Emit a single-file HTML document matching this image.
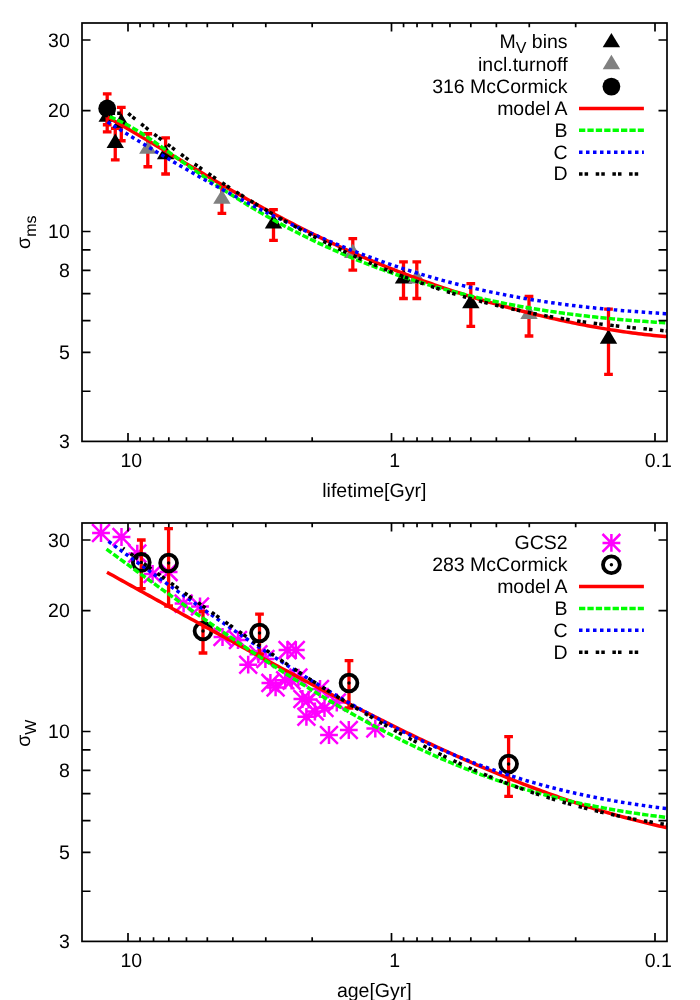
<!DOCTYPE html>
<html><head><meta charset="utf-8"><title>plot</title>
<style>html,body{margin:0;padding:0;background:#fff}svg{display:block}text{font-family:"Liberation Sans",sans-serif;text-rendering:geometricPrecision}</style></head><body>
<svg width="700" height="1000" viewBox="0 0 700 1000">
<rect width="700" height="1000" fill="#fff"/>
<rect x="0" y="0" width="1" height="1" fill="#fff" style="mix-blend-mode:multiply"/>
<g id="p1">
<path stroke="#ff0000" stroke-width="3.3" fill="none" d="M107.2,103.9 V131.9 M102.85,103.9 h8.7 M102.85,131.9 h8.7 M115.25,128.4 V159.9 M110.9,128.4 h8.7 M110.9,159.9 h8.7 M121.3,107.3 V140.75 M116.95,107.3 h8.7 M116.95,140.75 h8.7 M165.6,137.9 V174 M161.25,137.9 h8.7 M161.25,174 h8.7 M273.5,209.7 V240.4 M269.15,209.7 h8.7 M269.15,240.4 h8.7 M403.5,261.8 V298.5 M399.15,261.8 h8.7 M399.15,298.5 h8.7 M470.8,283.7 V326.4 M466.45,283.7 h8.7 M466.45,326.4 h8.7 M608.5,309.2 V374.4 M604.15,309.2 h8.7 M604.15,374.4 h8.7"/>
<path d="M107.2,107.41 l8.7,14.38 h-17.4 z" fill="#000"/>
<path d="M115.25,133.56 l8.7,14.38 h-17.4 z" fill="#000"/>
<path d="M121.3,113.26 l8.7,14.38 h-17.4 z" fill="#000"/>
<path d="M165.6,144.86 l8.7,14.38 h-17.4 z" fill="#000"/>
<path d="M273.5,214.06 l8.7,14.38 h-17.4 z" fill="#000"/>
<path d="M403.5,269.16 l8.7,14.38 h-17.4 z" fill="#000"/>
<path d="M470.8,293.96 l8.7,14.38 h-17.4 z" fill="#000"/>
<path d="M608.5,329.26 l8.7,14.38 h-17.4 z" fill="#000"/>
<path stroke="#ff0000" stroke-width="3.3" fill="none" d="M147.8,133.75 V166.75 M143.45,133.75 h8.7 M143.45,166.75 h8.7 M221.9,186.4 V213.4 M217.55,186.4 h8.7 M217.55,213.4 h8.7 M352.8,238.7 V270.2 M348.45,238.7 h8.7 M348.45,270.2 h8.7 M416.8,261.8 V298.5 M412.45,261.8 h8.7 M412.45,298.5 h8.7 M529,296.4 V336 M524.65,296.4 h8.7 M524.65,336 h8.7"/>
<path d="M147.8,139.46 l8.7,14.38 h-17.4 z" fill="#808080"/>
<path d="M221.9,189.46 l8.7,14.38 h-17.4 z" fill="#808080"/>
<path d="M352.8,243.66 l8.7,14.38 h-17.4 z" fill="#808080"/>
<path d="M416.8,269.16 l8.7,14.38 h-17.4 z" fill="#808080"/>
<path d="M529,304.66 l8.7,14.38 h-17.4 z" fill="#808080"/>
<path stroke="#ff0000" stroke-width="3.3" fill="none" d="M107.2,93.8 V124.75 M102.85,93.8 h8.7 M102.85,124.75 h8.7"/>
<circle cx="107.2" cy="108.5" r="8.9" fill="#000"/>
<path stroke="#ff0000" stroke-width="3.5" fill="none" d="M107.5,117.11 L110.5,118.8 L113.5,120.49 L116.5,122.21 L119.5,123.93 L122.5,125.66 L125.5,127.39 L128.5,129.14 L131.5,130.9 L134.5,132.66 L137.5,134.43 L140.5,136.2 L143.5,137.98 L146.5,139.76 L149.5,141.55 L152.5,143.34 L155.5,145.14 L158.5,146.94 L161.5,148.74 L164.5,150.54 L167.5,152.34 L170.5,154.14 L173.5,155.94 L176.5,157.75 L179.5,159.55 L182.5,161.35 L185.5,163.15 L188.5,164.94 L191.5,166.74 L194.5,168.53 L197.5,170.32 L200.5,172.1 L203.5,173.88 L206.5,175.66 L209.5,177.43 L212.5,179.2 L215.5,180.96 L218.5,182.72 L221.5,184.47 L224.5,186.22 L227.5,187.95 L230.5,189.69 L233.5,191.41 L236.5,193.13 L239.5,194.84 L242.5,196.54 L245.5,198.24 L248.5,199.93 L251.5,201.61 L254.5,203.28 L257.5,204.94 L260.5,206.59 L263.5,208.24 L266.5,209.87 L269.5,211.5 L272.5,213.12 L275.5,214.73 L278.5,216.32 L281.5,217.91 L284.5,219.49 L287.5,221.06 L290.5,222.62 L293.5,224.17 L296.5,225.71 L299.5,227.23 L302.5,228.75 L305.5,230.26 L308.5,231.75 L311.5,233.24 L314.5,234.71 L317.5,236.18 L320.5,237.63 L323.5,239.07 L326.5,240.5 L329.5,241.93 L332.5,243.33 L335.5,244.73 L338.5,246.12 L341.5,247.5 L344.5,248.86 L347.5,250.22 L350.5,251.56 L353.5,252.89 L356.5,254.21 L359.5,255.53 L362.5,256.82 L365.5,258.11 L368.5,259.39 L371.5,260.66 L374.5,261.91 L377.5,263.16 L380.5,264.39 L383.5,265.61 L386.5,266.83 L389.5,268.03 L392.5,269.22 L395.5,270.4 L398.5,271.57 L401.5,272.73 L404.5,273.87 L407.5,275.01 L410.5,276.14 L413.5,277.26 L416.5,278.36 L419.5,279.46 L422.5,280.54 L425.5,281.62 L428.5,282.68 L431.5,283.74 L434.5,284.79 L437.5,285.82 L440.5,286.85 L443.5,287.86 L446.5,288.87 L449.5,289.86 L452.5,290.85 L455.5,291.83 L458.5,292.79 L461.5,293.75 L464.5,294.7 L467.5,295.64 L470.5,296.57 L473.5,297.49 L476.5,298.4 L479.5,299.3 L482.5,300.19 L485.5,301.07 L488.5,301.95 L491.5,302.81 L494.5,303.66 L497.5,304.51 L500.5,305.35 L503.5,306.18 L506.5,307 L509.5,307.81 L512.5,308.61 L515.5,309.4 L518.5,310.18 L521.5,310.96 L524.5,311.72 L527.5,312.48 L530.5,313.23 L533.5,313.96 L536.5,314.69 L539.5,315.41 L542.5,316.13 L545.5,316.83 L548.5,317.52 L551.5,318.21 L554.5,318.88 L557.5,319.55 L560.5,320.2 L563.5,320.85 L566.5,321.49 L569.5,322.12 L572.5,322.74 L575.5,323.35 L578.5,323.95 L581.5,324.54 L584.5,325.12 L587.5,325.69 L590.5,326.25 L593.5,326.8 L596.5,327.34 L599.5,327.86 L602.5,328.38 L605.5,328.89 L608.5,329.39 L611.5,329.87 L614.5,330.35 L617.5,330.81 L620.5,331.26 L623.5,331.7 L626.5,332.13 L629.5,332.54 L632.5,332.94 L635.5,333.33 L638.5,333.71 L641.5,334.07 L644.5,334.42 L647.5,334.76 L650.5,335.08 L653.5,335.39 L656.5,335.69 L659.5,335.97 L662.5,336.23 L665.5,336.48 L667,336.6"/>
<path stroke="#00ff00" stroke-width="3.5" fill="none" stroke-dasharray="6.3 2.1" d="M109.6,116.79 L112.6,117.94 L115.6,119.19 L118.6,120.53 L121.6,121.96 L124.6,123.48 L127.6,125.07 L130.6,126.73 L133.6,128.46 L136.6,130.26 L139.6,132.11 L142.6,134.01 L145.6,135.97 L148.6,137.96 L151.6,139.99 L154.6,142.05 L157.6,144.14 L160.6,146.25 L163.6,148.38 L166.6,150.52 L169.6,152.66 L172.6,154.81 L175.6,156.95 L178.6,159.08 L181.6,161.21 L184.6,163.32 L187.6,165.43 L190.6,167.52 L193.6,169.61 L196.6,171.68 L199.6,173.75 L202.6,175.8 L205.6,177.84 L208.6,179.87 L211.6,181.88 L214.6,183.88 L217.6,185.87 L220.6,187.84 L223.6,189.8 L226.6,191.75 L229.6,193.68 L232.6,195.59 L235.6,197.49 L238.6,199.37 L241.6,201.23 L244.6,203.08 L247.6,204.91 L250.6,206.72 L253.6,208.52 L256.6,210.29 L259.6,212.05 L262.6,213.79 L265.6,215.51 L268.6,217.21 L271.6,218.9 L274.6,220.57 L277.6,222.22 L280.6,223.85 L283.6,225.47 L286.6,227.07 L289.6,228.65 L292.6,230.21 L295.6,231.76 L298.6,233.29 L301.6,234.81 L304.6,236.3 L307.6,237.78 L310.6,239.25 L313.6,240.7 L316.6,242.13 L319.6,243.55 L322.6,244.94 L325.6,246.33 L328.6,247.7 L331.6,249.05 L334.6,250.38 L337.6,251.71 L340.6,253.01 L343.6,254.3 L346.6,255.57 L349.6,256.83 L352.6,258.08 L355.6,259.31 L358.6,260.52 L361.6,261.72 L364.6,262.9 L367.6,264.07 L370.6,265.23 L373.6,266.37 L376.6,267.5 L379.6,268.61 L382.6,269.7 L385.6,270.79 L388.6,271.86 L391.6,272.91 L394.6,273.95 L397.6,274.98 L400.6,276 L403.6,277 L406.6,277.98 L409.6,278.96 L412.6,279.92 L415.6,280.87 L418.6,281.8 L421.6,282.72 L424.6,283.63 L427.6,284.53 L430.6,285.41 L433.6,286.28 L436.6,287.14 L439.6,287.98 L442.6,288.81 L445.6,289.63 L448.6,290.44 L451.6,291.24 L454.6,292.02 L457.6,292.8 L460.6,293.56 L463.6,294.31 L466.6,295.04 L469.6,295.77 L472.6,296.48 L475.6,297.19 L478.6,297.88 L481.6,298.56 L484.6,299.23 L487.6,299.89 L490.6,300.53 L493.6,301.17 L496.6,301.8 L499.6,302.41 L502.6,303.02 L505.6,303.61 L508.6,304.2 L511.6,304.77 L514.6,305.34 L517.6,305.89 L520.6,306.44 L523.6,306.97 L526.6,307.5 L529.6,308.01 L532.6,308.52 L535.6,309.01 L538.6,309.5 L541.6,309.98 L544.6,310.45 L547.6,310.91 L550.6,311.36 L553.6,311.8 L556.6,312.23 L559.6,312.65 L562.6,313.07 L565.6,313.48 L568.6,313.88 L571.6,314.27 L574.6,314.65 L577.6,315.02 L580.6,315.39 L583.6,315.74 L586.6,316.09 L589.6,316.44 L592.6,316.77 L595.6,317.1 L598.6,317.42 L601.6,317.73 L604.6,318.03 L607.6,318.33 L610.6,318.62 L613.6,318.9 L616.6,319.18 L619.6,319.45 L622.6,319.71 L625.6,319.97 L628.6,320.22 L631.6,320.46 L634.6,320.7 L637.6,320.93 L640.6,321.15 L643.6,321.37 L646.6,321.58 L649.6,321.79 L652.6,321.99 L655.6,322.18 L658.6,322.37 L661.6,322.56 L664.6,322.73 L667,322.87"/>
<path stroke="#0000ff" stroke-width="3.5" fill="none" stroke-dasharray="3.5 3.5" d="M107.5,121.88 L110.5,123.75 L113.5,125.61 L116.5,127.48 L119.5,129.33 L122.5,131.19 L125.5,133.03 L128.5,134.88 L131.5,136.72 L134.5,138.55 L137.5,140.38 L140.5,142.2 L143.5,144.02 L146.5,145.83 L149.5,147.64 L152.5,149.44 L155.5,151.24 L158.5,153.03 L161.5,154.81 L164.5,156.59 L167.5,158.36 L170.5,160.12 L173.5,161.88 L176.5,163.63 L179.5,165.37 L182.5,167.1 L185.5,168.83 L188.5,170.55 L191.5,172.27 L194.5,173.97 L197.5,175.67 L200.5,177.36 L203.5,179.05 L206.5,180.72 L209.5,182.39 L212.5,184.04 L215.5,185.69 L218.5,187.34 L221.5,188.97 L224.5,190.59 L227.5,192.21 L230.5,193.81 L233.5,195.41 L236.5,197 L239.5,198.58 L242.5,200.15 L245.5,201.71 L248.5,203.26 L251.5,204.8 L254.5,206.33 L257.5,207.85 L260.5,209.36 L263.5,210.86 L266.5,212.36 L269.5,213.84 L272.5,215.31 L275.5,216.77 L278.5,218.22 L281.5,219.66 L284.5,221.09 L287.5,222.51 L290.5,223.92 L293.5,225.32 L296.5,226.7 L299.5,228.08 L302.5,229.45 L305.5,230.8 L308.5,232.14 L311.5,233.48 L314.5,234.8 L317.5,236.11 L320.5,237.41 L323.5,238.7 L326.5,239.97 L329.5,241.24 L332.5,242.49 L335.5,243.73 L338.5,244.96 L341.5,246.18 L344.5,247.39 L347.5,248.59 L350.5,249.77 L353.5,250.95 L356.5,252.11 L359.5,253.26 L362.5,254.39 L365.5,255.52 L368.5,256.63 L371.5,257.74 L374.5,258.83 L377.5,259.9 L380.5,260.97 L383.5,262.03 L386.5,263.07 L389.5,264.1 L392.5,265.12 L395.5,266.13 L398.5,267.12 L401.5,268.1 L404.5,269.08 L407.5,270.04 L410.5,270.98 L413.5,271.92 L416.5,272.84 L419.5,273.75 L422.5,274.65 L425.5,275.54 L428.5,276.42 L431.5,277.28 L434.5,278.14 L437.5,278.98 L440.5,279.81 L443.5,280.63 L446.5,281.43 L449.5,282.23 L452.5,283.01 L455.5,283.78 L458.5,284.54 L461.5,285.29 L464.5,286.02 L467.5,286.75 L470.5,287.46 L473.5,288.16 L476.5,288.86 L479.5,289.54 L482.5,290.21 L485.5,290.86 L488.5,291.51 L491.5,292.15 L494.5,292.77 L497.5,293.38 L500.5,293.99 L503.5,294.58 L506.5,295.16 L509.5,295.73 L512.5,296.3 L515.5,296.85 L518.5,297.39 L521.5,297.92 L524.5,298.44 L527.5,298.95 L530.5,299.45 L533.5,299.94 L536.5,300.42 L539.5,300.89 L542.5,301.35 L545.5,301.8 L548.5,302.24 L551.5,302.68 L554.5,303.1 L557.5,303.52 L560.5,303.92 L563.5,304.32 L566.5,304.71 L569.5,305.09 L572.5,305.46 L575.5,305.83 L578.5,306.18 L581.5,306.53 L584.5,306.87 L587.5,307.2 L590.5,307.53 L593.5,307.85 L596.5,308.16 L599.5,308.46 L602.5,308.76 L605.5,309.04 L608.5,309.33 L611.5,309.6 L614.5,309.87 L617.5,310.14 L620.5,310.39 L623.5,310.65 L626.5,310.89 L629.5,311.13 L632.5,311.37 L635.5,311.6 L638.5,311.82 L641.5,312.04 L644.5,312.26 L647.5,312.47 L650.5,312.68 L653.5,312.88 L656.5,313.08 L659.5,313.28 L662.5,313.47 L665.5,313.66 L667,313.75"/>
<path stroke="#000000" stroke-width="3.5" fill="none" stroke-dasharray="3.5 2.1 3.5 7.6" d="M111.55,113.2 L128,113.2 L131,115.66 L134,118.11 L137,120.54 L140,122.95 L143,125.35 L146,127.73 L149,130.09 L152,132.44 L155,134.77 L158,137.08 L161,139.38 L164,141.66 L167,143.92 L170,146.17 L173,148.4 L176,150.62 L179,152.82 L182,155 L185,157.17 L188,159.33 L191,161.46 L194,163.59 L197,165.69 L200,167.79 L203,169.86 L206,171.93 L209,173.97 L212,176.01 L215,178.02 L218,180.02 L221,182.01 L224,183.99 L227,185.94 L230,187.89 L233,189.82 L236,191.73 L239,193.63 L242,195.52 L245,197.39 L248,199.25 L251,201.09 L254,202.92 L257,204.74 L260,206.54 L263,208.33 L266,210.1 L269,211.86 L272,213.6 L275,215.34 L278,217.05 L281,218.76 L284,220.45 L287,222.12 L290,223.78 L293,225.43 L296,227.06 L299,228.68 L302,230.29 L305,231.88 L308,233.46 L311,235.03 L314,236.58 L317,238.12 L320,239.64 L323,241.15 L326,242.65 L329,244.13 L332,245.6 L335,247.05 L338,248.49 L341,249.92 L344,251.33 L347,252.73 L350,254.12 L353,255.49 L356,256.85 L359,258.2 L362,259.53 L365,260.85 L368,262.15 L371,263.44 L374,264.72 L377,265.98 L380,267.23 L383,268.47 L386,269.69 L389,270.9 L392,272.1 L395,273.28 L398,274.45 L401,275.6 L404,276.74 L407,277.87 L410,278.98 L413,280.08 L416,281.17 L419,282.24 L422,283.3 L425,284.35 L428,285.38 L431,286.4 L434,287.41 L437,288.4 L440,289.38 L443,290.34 L446,291.3 L449,292.24 L452,293.16 L455,294.07 L458,294.97 L461,295.86 L464,296.74 L467,297.6 L470,298.44 L473,299.28 L476,300.1 L479,300.91 L482,301.71 L485,302.49 L488,303.26 L491,304.02 L494,304.77 L497,305.5 L500,306.23 L503,306.93 L506,307.63 L509,308.32 L512,308.99 L515,309.65 L518,310.3 L521,310.94 L524,311.57 L527,312.18 L530,312.79 L533,313.38 L536,313.96 L539,314.53 L542,315.09 L545,315.64 L548,316.18 L551,316.71 L554,317.22 L557,317.73 L560,318.23 L563,318.72 L566,319.19 L569,319.66 L572,320.12 L575,320.57 L578,321.01 L581,321.44 L584,321.86 L587,322.28 L590,322.68 L593,323.08 L596,323.47 L599,323.85 L602,324.23 L605,324.59 L608,324.95 L611,325.31 L614,325.65 L617,325.99 L620,326.33 L623,326.65 L626,326.98 L629,327.29 L632,327.61 L635,327.91 L638,328.22 L641,328.52 L644,328.81 L647,329.1 L650,329.39 L653,329.67 L656,329.95 L659,330.23 L662,330.51 L665,330.78 L667,330.97"/>
</g>
<g stroke="#000" stroke-width="1.7" fill="none" stroke-linecap="butt">
<rect x="82" y="23" width="585" height="418.4"/>
<path d="M128,441.4 v-8.5 M128,23 v8.5 M391.5,441.4 v-8.5 M391.5,23 v8.5 M312.18,441.4 v-4.2 M312.18,23 v4.2 M265.78,441.4 v-4.2 M265.78,23 v4.2 M232.86,441.4 v-4.2 M232.86,23 v4.2 M207.32,441.4 v-4.2 M207.32,23 v4.2 M186.46,441.4 v-4.2 M186.46,23 v4.2 M168.82,441.4 v-4.2 M168.82,23 v4.2 M153.54,441.4 v-4.2 M153.54,23 v4.2 M140.06,441.4 v-4.2 M140.06,23 v4.2 M655,441.4 v-8.5 M655,23 v8.5 M575.68,441.4 v-4.2 M575.68,23 v4.2 M529.28,441.4 v-4.2 M529.28,23 v4.2 M496.36,441.4 v-4.2 M496.36,23 v4.2 M470.82,441.4 v-4.2 M470.82,23 v4.2 M449.96,441.4 v-4.2 M449.96,23 v4.2 M432.32,441.4 v-4.2 M432.32,23 v4.2 M417.04,441.4 v-4.2 M417.04,23 v4.2 M403.56,441.4 v-4.2 M403.56,23 v4.2 M82,391.25 h8.5 M667,391.25 h-8.5 M82,352.35 h8.5 M667,352.35 h-8.5 M82,320.57 h8.5 M667,320.57 h-8.5 M82,293.69 h8.5 M667,293.69 h-8.5 M82,270.42 h8.5 M667,270.42 h-8.5 M82,249.88 h8.5 M667,249.88 h-8.5 M82,231.52 h8.5 M667,231.52 h-8.5 M82,110.68 h8.5 M667,110.68 h-8.5 M82,40 h8.5 M667,40 h-8.5"/>
</g>
<g font-size="19.5" fill="#000">
<text x="69.8" y="448.1" text-anchor="end">3</text>
<text x="69.8" y="359.05" text-anchor="end">5</text>
<text x="69.8" y="277.12" text-anchor="end">8</text>
<text x="69.8" y="238.22" text-anchor="end">10</text>
<text x="69.8" y="117.38" text-anchor="end">20</text>
<text x="69.8" y="46.7" text-anchor="end">30</text>
<text x="131.3" y="467.2" text-anchor="middle">10</text>
<text x="394.8" y="467.2" text-anchor="middle">1</text>
<text x="658.3" y="467.2" text-anchor="middle">0.1</text>
</g>
<g font-size="19.5" fill="#000" text-anchor="end">
<text x="567.6" y="47.5">M<tspan font-size="16" dy="5.8">V</tspan><tspan dy="-5.8"> bins</tspan></text>
<text x="567.6" y="71.15">incl.turnoff</text>
<text x="567.6" y="93">316 McCormick</text>
<text x="567.6" y="114.85">model A</text>
<text x="567.6" y="136.7">B</text>
<text x="567.6" y="158.55">C</text>
<text x="567.6" y="180.4">D</text>
</g>
<path d="M611.4,32.96 l8.7,14.38 h-17.4 z" fill="#000"/>
<path d="M611.4,54.81 l8.7,14.38 h-17.4 z" fill="#808080"/>
<circle cx="611.4" cy="86.6" r="8.9" fill="#000"/>
<path stroke="#ff0000" stroke-width="3.5" fill="none" d="M579,108.45 H643.9"/>
<path stroke="#00ff00" stroke-width="3.5" fill="none" stroke-dasharray="6.3 2.1" d="M579,130.3 H643.9"/>
<path stroke="#0000ff" stroke-width="3.5" fill="none" stroke-dasharray="3.5 3.5" d="M579,152.15 H643.9"/>
<path stroke="#000000" stroke-width="3.5" fill="none" stroke-dasharray="3.5 2.1 3.5 7.6" d="M579,174 H643.9"/>
<text x="374.3" y="497.0" font-size="19.5" text-anchor="middle">lifetime[Gyr]</text>
<text transform="translate(29.9,232.2) rotate(-90)" font-size="19.5" text-anchor="middle">σ<tspan font-size="16" dy="5.6">ms</tspan></text>
<g id="p2">
<clipPath id="c2"><rect x="82" y="523" width="585" height="418.4"/></clipPath>
<g clip-path="url(#c2)">
<path d="M92.1,533 h17.8 M101,524.1 v17.8 M92.1,524.1 l17.8,17.8 M92.1,541.9 l17.8,-17.8" stroke="#ff00ff" stroke-width="2.5" fill="none"/>
<path d="M112.6,537 h17.8 M121.5,528.1 v17.8 M112.6,528.1 l17.8,17.8 M112.6,545.9 l17.8,-17.8" stroke="#ff00ff" stroke-width="2.5" fill="none"/>
<path d="M128.4,553.6 h17.8 M137.3,544.7 v17.8 M128.4,544.7 l17.8,17.8 M128.4,562.5 l17.8,-17.8" stroke="#ff00ff" stroke-width="2.5" fill="none"/>
<path d="M143.7,574 h17.8 M152.6,565.1 v17.8 M143.7,565.1 l17.8,17.8 M143.7,582.9 l17.8,-17.8" stroke="#ff00ff" stroke-width="2.5" fill="none"/>
<path d="M159.7,572.1 h17.8 M168.6,563.2 v17.8 M159.7,563.2 l17.8,17.8 M159.7,581 l17.8,-17.8" stroke="#ff00ff" stroke-width="2.5" fill="none"/>
<path d="M174.7,603.6 h17.8 M183.6,594.7 v17.8 M174.7,594.7 l17.8,17.8 M174.7,612.5 l17.8,-17.8" stroke="#ff00ff" stroke-width="2.5" fill="none"/>
<path d="M191.1,606.5 h17.8 M200,597.6 v17.8 M191.1,597.6 l17.8,17.8 M191.1,615.4 l17.8,-17.8" stroke="#ff00ff" stroke-width="2.5" fill="none"/>
<path d="M213.6,637 h17.8 M222.5,628.1 v17.8 M213.6,628.1 l17.8,17.8 M213.6,645.9 l17.8,-17.8" stroke="#ff00ff" stroke-width="2.5" fill="none"/>
<path d="M229.1,640 h17.8 M238,631.1 v17.8 M229.1,631.1 l17.8,17.8 M229.1,648.9 l17.8,-17.8" stroke="#ff00ff" stroke-width="2.5" fill="none"/>
<path d="M239.3,664.7 h17.8 M248.2,655.8 v17.8 M239.3,655.8 l17.8,17.8 M239.3,673.6 l17.8,-17.8" stroke="#ff00ff" stroke-width="2.5" fill="none"/>
<path d="M256.5,659 h17.8 M265.4,650.1 v17.8 M256.5,650.1 l17.8,17.8 M256.5,667.9 l17.8,-17.8" stroke="#ff00ff" stroke-width="2.5" fill="none"/>
<path d="M249.5,654.3 h17.8 M258.4,645.4 v17.8 M249.5,645.4 l17.8,17.8 M249.5,663.2 l17.8,-17.8" stroke="#ff00ff" stroke-width="2.5" fill="none"/>
<path d="M261.5,682.9 h17.8 M270.4,674 v17.8 M261.5,674 l17.8,17.8 M261.5,691.8 l17.8,-17.8" stroke="#ff00ff" stroke-width="2.5" fill="none"/>
<path d="M266.7,687.4 h17.8 M275.6,678.5 v17.8 M266.7,678.5 l17.8,17.8 M266.7,696.3 l17.8,-17.8" stroke="#ff00ff" stroke-width="2.5" fill="none"/>
<path d="M276.3,680.3 h17.8 M285.2,671.4 v17.8 M276.3,671.4 l17.8,17.8 M276.3,689.2 l17.8,-17.8" stroke="#ff00ff" stroke-width="2.5" fill="none"/>
<path d="M282.7,680.6 h17.8 M291.6,671.7 v17.8 M282.7,671.7 l17.8,17.8 M282.7,689.5 l17.8,-17.8" stroke="#ff00ff" stroke-width="2.5" fill="none"/>
<path d="M278.6,650.1 h17.8 M287.5,641.2 v17.8 M278.6,641.2 l17.8,17.8 M278.6,659 l17.8,-17.8" stroke="#ff00ff" stroke-width="2.5" fill="none"/>
<path d="M286.9,650.1 h17.8 M295.8,641.2 v17.8 M286.9,641.2 l17.8,17.8 M286.9,659 l17.8,-17.8" stroke="#ff00ff" stroke-width="2.5" fill="none"/>
<path d="M293.5,699 h17.8 M302.4,690.1 v17.8 M293.5,690.1 l17.8,17.8 M293.5,707.9 l17.8,-17.8" stroke="#ff00ff" stroke-width="2.5" fill="none"/>
<path d="M299.7,699.6 h17.8 M308.6,690.7 v17.8 M299.7,690.7 l17.8,17.8 M299.7,708.5 l17.8,-17.8" stroke="#ff00ff" stroke-width="2.5" fill="none"/>
<path d="M297.5,716.8 h17.8 M306.4,707.9 v17.8 M297.5,707.9 l17.8,17.8 M297.5,725.7 l17.8,-17.8" stroke="#ff00ff" stroke-width="2.5" fill="none"/>
<path d="M306,711.5 h17.8 M314.9,702.6 v17.8 M306,702.6 l17.8,17.8 M306,720.4 l17.8,-17.8" stroke="#ff00ff" stroke-width="2.5" fill="none"/>
<path d="M315.6,708 h17.8 M324.5,699.1 v17.8 M315.6,699.1 l17.8,17.8 M315.6,716.9 l17.8,-17.8" stroke="#ff00ff" stroke-width="2.5" fill="none"/>
<path d="M289.5,677.6 h17.8 M298.4,668.7 v17.8 M289.5,668.7 l17.8,17.8 M289.5,686.5 l17.8,-17.8" stroke="#ff00ff" stroke-width="2.5" fill="none"/>
<path d="M311.1,689 h17.8 M320,680.1 v17.8 M311.1,680.1 l17.8,17.8 M311.1,697.9 l17.8,-17.8" stroke="#ff00ff" stroke-width="2.5" fill="none"/>
<path d="M320.1,735 h17.8 M329,726.1 v17.8 M320.1,726.1 l17.8,17.8 M320.1,743.9 l17.8,-17.8" stroke="#ff00ff" stroke-width="2.5" fill="none"/>
<path d="M339.9,730 h17.8 M348.8,721.1 v17.8 M339.9,721.1 l17.8,17.8 M339.9,738.9 l17.8,-17.8" stroke="#ff00ff" stroke-width="2.5" fill="none"/>
<path d="M366.4,728.5 h17.8 M375.3,719.6 v17.8 M366.4,719.6 l17.8,17.8 M366.4,737.4 l17.8,-17.8" stroke="#ff00ff" stroke-width="2.5" fill="none"/>
<path d="M327.9,702.5 h17.8 M336.8,693.6 v17.8 M327.9,693.6 l17.8,17.8 M327.9,711.4 l17.8,-17.8" stroke="#ff00ff" stroke-width="2.5" fill="none"/>
</g>
<path stroke="#ff0000" stroke-width="3.3" fill="none" d="M141.3,540 V588.6 M136.95,540 h8.7 M136.95,588.6 h8.7 M168.6,528.6 V606 M164.25,528.6 h8.7 M164.25,606 h8.7 M203,611.4 V653 M198.65,611.4 h8.7 M198.65,653 h8.7 M259.5,614.2 V654 M255.15,614.2 h8.7 M255.15,654 h8.7 M349,660.6 V708 M344.65,660.6 h8.7 M344.65,708 h8.7 M508.6,736.6 V796.4 M504.25,736.6 h8.7 M504.25,796.4 h8.7"/>
<circle cx="141.3" cy="562.4" r="8.4" fill="none" stroke="#000" stroke-width="3.8"/><circle cx="141.3" cy="562.4" r="1.7" fill="#000"/>
<circle cx="168.6" cy="563" r="8.4" fill="none" stroke="#000" stroke-width="3.8"/><circle cx="168.6" cy="563" r="1.7" fill="#000"/>
<circle cx="203" cy="631" r="8.4" fill="none" stroke="#000" stroke-width="3.8"/><circle cx="203" cy="631" r="1.7" fill="#000"/>
<circle cx="259.5" cy="633" r="8.4" fill="none" stroke="#000" stroke-width="3.8"/><circle cx="259.5" cy="633" r="1.7" fill="#000"/>
<circle cx="349" cy="683" r="8.4" fill="none" stroke="#000" stroke-width="3.8"/><circle cx="349" cy="683" r="1.7" fill="#000"/>
<circle cx="508.6" cy="764" r="8.4" fill="none" stroke="#000" stroke-width="3.8"/><circle cx="508.6" cy="764" r="1.7" fill="#000"/>
<path stroke="#ff0000" stroke-width="3.5" fill="none" d="M107,572.24 L110,573.92 L113,575.59 L116,577.27 L119,578.94 L122,580.62 L125,582.29 L128,583.96 L131,585.63 L134,587.3 L137,588.97 L140,590.64 L143,592.31 L146,593.98 L149,595.65 L152,597.32 L155,598.98 L158,600.65 L161,602.31 L164,603.98 L167,605.64 L170,607.3 L173,608.96 L176,610.62 L179,612.28 L182,613.94 L185,615.6 L188,617.25 L191,618.91 L194,620.56 L197,622.21 L200,623.87 L203,625.52 L206,627.17 L209,628.82 L212,630.46 L215,632.11 L218,633.75 L221,635.4 L224,637.04 L227,638.68 L230,640.32 L233,641.96 L236,643.59 L239,645.23 L242,646.86 L245,648.49 L248,650.12 L251,651.75 L254,653.38 L257,655 L260,656.62 L263,658.24 L266,659.86 L269,661.48 L272,663.1 L275,664.71 L278,666.32 L281,667.93 L284,669.53 L287,671.14 L290,672.74 L293,674.34 L296,675.94 L299,677.53 L302,679.12 L305,680.71 L308,682.3 L311,683.89 L314,685.47 L317,687.05 L320,688.62 L323,690.2 L326,691.77 L329,693.33 L332,694.9 L335,696.46 L338,698.01 L341,699.57 L344,701.12 L347,702.66 L350,704.21 L353,705.75 L356,707.28 L359,708.81 L362,710.34 L365,711.86 L368,713.38 L371,714.9 L374,716.41 L377,717.92 L380,719.42 L383,720.92 L386,722.41 L389,723.9 L392,725.38 L395,726.86 L398,728.34 L401,729.81 L404,731.27 L407,732.73 L410,734.18 L413,735.63 L416,737.07 L419,738.5 L422,739.93 L425,741.36 L428,742.78 L431,744.19 L434,745.59 L437,746.99 L440,748.39 L443,749.77 L446,751.15 L449,752.52 L452,753.89 L455,755.25 L458,756.6 L461,757.94 L464,759.28 L467,760.61 L470,761.93 L473,763.25 L476,764.55 L479,765.85 L482,767.14 L485,768.42 L488,769.7 L491,770.96 L494,772.22 L497,773.47 L500,774.71 L503,775.94 L506,777.16 L509,778.38 L512,779.58 L515,780.78 L518,781.96 L521,783.14 L524,784.3 L527,785.46 L530,786.61 L533,787.75 L536,788.87 L539,789.99 L542,791.1 L545,792.2 L548,793.29 L551,794.36 L554,795.43 L557,796.49 L560,797.53 L563,798.57 L566,799.59 L569,800.61 L572,801.61 L575,802.6 L578,803.58 L581,804.56 L584,805.52 L587,806.47 L590,807.4 L593,808.33 L596,809.25 L599,810.15 L602,811.05 L605,811.93 L608,812.8 L611,813.66 L614,814.51 L617,815.35 L620,816.18 L623,816.99 L626,817.8 L629,818.59 L632,819.38 L635,820.15 L638,820.91 L641,821.66 L644,822.4 L647,823.13 L650,823.84 L653,824.55 L656,825.25 L659,825.93 L662,826.61 L665,827.27 L667,827.71"/>
<path stroke="#00ff00" stroke-width="3.5" fill="none" stroke-dasharray="6.3 2.1" d="M106.5,549.13 L109.5,551.33 L112.5,553.52 L115.5,555.71 L118.5,557.9 L121.5,560.09 L124.5,562.27 L127.5,564.45 L130.5,566.63 L133.5,568.8 L136.5,570.98 L139.5,573.15 L142.5,575.31 L145.5,577.48 L148.5,579.64 L151.5,581.8 L154.5,583.95 L157.5,586.1 L160.5,588.25 L163.5,590.39 L166.5,592.54 L169.5,594.67 L172.5,596.81 L175.5,598.94 L178.5,601.06 L181.5,603.18 L184.5,605.3 L187.5,607.42 L190.5,609.53 L193.5,611.63 L196.5,613.73 L199.5,615.83 L202.5,617.92 L205.5,620.01 L208.5,622.09 L211.5,624.17 L214.5,626.24 L217.5,628.31 L220.5,630.37 L223.5,632.43 L226.5,634.48 L229.5,636.53 L232.5,638.57 L235.5,640.6 L238.5,642.63 L241.5,644.66 L244.5,646.67 L247.5,648.68 L250.5,650.69 L253.5,652.68 L256.5,654.67 L259.5,656.66 L262.5,658.64 L265.5,660.61 L268.5,662.57 L271.5,664.52 L274.5,666.47 L277.5,668.41 L280.5,670.34 L283.5,672.27 L286.5,674.19 L289.5,676.09 L292.5,677.99 L295.5,679.89 L298.5,681.77 L301.5,683.64 L304.5,685.51 L307.5,687.36 L310.5,689.21 L313.5,691.05 L316.5,692.88 L319.5,694.7 L322.5,696.5 L325.5,698.3 L328.5,700.09 L331.5,701.87 L334.5,703.64 L337.5,705.4 L340.5,707.14 L343.5,708.88 L346.5,710.6 L349.5,712.32 L352.5,714.02 L355.5,715.71 L358.5,717.39 L361.5,719.06 L364.5,720.71 L367.5,722.36 L370.5,723.99 L373.5,725.61 L376.5,727.21 L379.5,728.81 L382.5,730.39 L385.5,731.96 L388.5,733.51 L391.5,735.05 L394.5,736.58 L397.5,738.1 L400.5,739.6 L403.5,741.09 L406.5,742.57 L409.5,744.03 L412.5,745.48 L415.5,746.91 L418.5,748.33 L421.5,749.73 L424.5,751.13 L427.5,752.5 L430.5,753.87 L433.5,755.21 L436.5,756.55 L439.5,757.87 L442.5,759.17 L445.5,760.46 L448.5,761.73 L451.5,763 L454.5,764.24 L457.5,765.47 L460.5,766.69 L463.5,767.89 L466.5,769.07 L469.5,770.24 L472.5,771.4 L475.5,772.54 L478.5,773.67 L481.5,774.78 L484.5,775.87 L487.5,776.95 L490.5,778.02 L493.5,779.07 L496.5,780.11 L499.5,781.13 L502.5,782.13 L505.5,783.13 L508.5,784.1 L511.5,785.07 L514.5,786.01 L517.5,786.95 L520.5,787.87 L523.5,788.77 L526.5,789.66 L529.5,790.54 L532.5,791.4 L535.5,792.25 L538.5,793.08 L541.5,793.9 L544.5,794.71 L547.5,795.5 L550.5,796.28 L553.5,797.05 L556.5,797.8 L559.5,798.54 L562.5,799.26 L565.5,799.98 L568.5,800.68 L571.5,801.37 L574.5,802.04 L577.5,802.7 L580.5,803.36 L583.5,803.99 L586.5,804.62 L589.5,805.24 L592.5,805.84 L595.5,806.43 L598.5,807.01 L601.5,807.58 L604.5,808.14 L607.5,808.68 L610.5,809.22 L613.5,809.74 L616.5,810.26 L619.5,810.76 L622.5,811.26 L625.5,811.74 L628.5,812.22 L631.5,812.68 L634.5,813.13 L637.5,813.58 L640.5,814.02 L643.5,814.44 L646.5,814.86 L649.5,815.27 L652.5,815.67 L655.5,816.06 L658.5,816.44 L661.5,816.82 L664.5,817.19 L667,817.48"/>
<path stroke="#0000ff" stroke-width="3.5" fill="none" stroke-dasharray="3.5 3.5" d="M108.5,541.43 L111.5,543.62 L114.5,545.81 L117.5,548 L120.5,550.18 L123.5,552.36 L126.5,554.54 L129.5,556.72 L132.5,558.89 L135.5,561.06 L138.5,563.23 L141.5,565.4 L144.5,567.56 L147.5,569.72 L150.5,571.88 L153.5,574.03 L156.5,576.18 L159.5,578.33 L162.5,580.47 L165.5,582.61 L168.5,584.75 L171.5,586.88 L174.5,589.01 L177.5,591.13 L180.5,593.26 L183.5,595.37 L186.5,597.49 L189.5,599.6 L192.5,601.7 L195.5,603.8 L198.5,605.9 L201.5,607.99 L204.5,610.08 L207.5,612.16 L210.5,614.24 L213.5,616.31 L216.5,618.38 L219.5,620.44 L222.5,622.5 L225.5,624.55 L228.5,626.6 L231.5,628.64 L234.5,630.68 L237.5,632.71 L240.5,634.73 L243.5,636.75 L246.5,638.76 L249.5,640.76 L252.5,642.76 L255.5,644.75 L258.5,646.74 L261.5,648.72 L264.5,650.69 L267.5,652.66 L270.5,654.61 L273.5,656.56 L276.5,658.51 L279.5,660.44 L282.5,662.37 L285.5,664.29 L288.5,666.2 L291.5,668.1 L294.5,670 L297.5,671.88 L300.5,673.76 L303.5,675.63 L306.5,677.49 L309.5,679.34 L312.5,681.18 L315.5,683.01 L318.5,684.83 L321.5,686.65 L324.5,688.45 L327.5,690.24 L330.5,692.03 L333.5,693.8 L336.5,695.56 L339.5,697.31 L342.5,699.05 L345.5,700.78 L348.5,702.5 L351.5,704.21 L354.5,705.91 L357.5,707.59 L360.5,709.26 L363.5,710.93 L366.5,712.57 L369.5,714.21 L372.5,715.84 L375.5,717.45 L378.5,719.05 L381.5,720.64 L384.5,722.21 L387.5,723.78 L390.5,725.33 L393.5,726.86 L396.5,728.39 L399.5,729.9 L402.5,731.39 L405.5,732.87 L408.5,734.34 L411.5,735.8 L414.5,737.24 L417.5,738.67 L420.5,740.08 L423.5,741.48 L426.5,742.87 L429.5,744.24 L432.5,745.59 L435.5,746.93 L438.5,748.26 L441.5,749.57 L444.5,750.87 L447.5,752.16 L450.5,753.43 L453.5,754.68 L456.5,755.92 L459.5,757.14 L462.5,758.35 L465.5,759.55 L468.5,760.73 L471.5,761.89 L474.5,763.04 L477.5,764.17 L480.5,765.29 L483.5,766.4 L486.5,767.49 L489.5,768.56 L492.5,769.62 L495.5,770.67 L498.5,771.7 L501.5,772.72 L504.5,773.72 L507.5,774.7 L510.5,775.67 L513.5,776.63 L516.5,777.57 L519.5,778.5 L522.5,779.41 L525.5,780.31 L528.5,781.2 L531.5,782.07 L534.5,782.93 L537.5,783.77 L540.5,784.6 L543.5,785.41 L546.5,786.21 L549.5,787 L552.5,787.78 L555.5,788.54 L558.5,789.28 L561.5,790.02 L564.5,790.74 L567.5,791.45 L570.5,792.15 L573.5,792.83 L576.5,793.5 L579.5,794.16 L582.5,794.81 L585.5,795.44 L588.5,796.06 L591.5,796.67 L594.5,797.27 L597.5,797.86 L600.5,798.43 L603.5,799 L606.5,799.55 L609.5,800.1 L612.5,800.63 L615.5,801.15 L618.5,801.66 L621.5,802.16 L624.5,802.65 L627.5,803.13 L630.5,803.6 L633.5,804.06 L636.5,804.51 L639.5,804.96 L642.5,805.39 L645.5,805.81 L648.5,806.23 L651.5,806.63 L654.5,807.03 L657.5,807.42 L660.5,807.8 L663.5,808.17 L666.5,808.53 L667,808.59"/>
<path stroke="#000000" stroke-width="3.5" fill="none" stroke-dasharray="3.5 2.1 3.5 7.6" stroke-dashoffset="7.4" d="M123,548.12 L126,550.33 L129,552.54 L132,554.74 L135,556.94 L138,559.14 L141,561.34 L144,563.54 L147,565.73 L150,567.92 L153,570.11 L156,572.29 L159,574.48 L162,576.66 L165,578.84 L168,581.01 L171,583.18 L174,585.35 L177,587.52 L180,589.68 L183,591.84 L186,594 L189,596.16 L192,598.31 L195,600.46 L198,602.6 L201,604.74 L204,606.88 L207,609.01 L210,611.14 L213,613.27 L216,615.39 L219,617.51 L222,619.62 L225,621.73 L228,623.83 L231,625.93 L234,628.03 L237,630.12 L240,632.21 L243,634.29 L246,636.37 L249,638.44 L252,640.51 L255,642.57 L258,644.62 L261,646.68 L264,648.72 L267,650.76 L270,652.79 L273,654.82 L276,656.84 L279,658.86 L282,660.87 L285,662.87 L288,664.87 L291,666.86 L294,668.84 L297,670.81 L300,672.78 L303,674.74 L306,676.7 L309,678.64 L312,680.58 L315,682.51 L318,684.44 L321,686.35 L324,688.26 L327,690.16 L330,692.05 L333,693.93 L336,695.8 L339,697.66 L342,699.52 L345,701.36 L348,703.2 L351,705.03 L354,706.84 L357,708.65 L360,710.45 L363,712.23 L366,714.01 L369,715.77 L372,717.53 L375,719.27 L378,721.01 L381,722.73 L384,724.44 L387,726.14 L390,727.83 L393,729.5 L396,731.17 L399,732.82 L402,734.46 L405,736.09 L408,737.71 L411,739.31 L414,740.9 L417,742.48 L420,744.05 L423,745.6 L426,747.14 L429,748.66 L432,750.18 L435,751.68 L438,753.16 L441,754.63 L444,756.09 L447,757.54 L450,758.97 L453,760.38 L456,761.79 L459,763.17 L462,764.55 L465,765.91 L468,767.25 L471,768.58 L474,769.9 L477,771.2 L480,772.48 L483,773.76 L486,775.01 L489,776.25 L492,777.48 L495,778.69 L498,779.89 L501,781.07 L504,782.24 L507,783.39 L510,784.53 L513,785.65 L516,786.76 L519,787.85 L522,788.93 L525,789.99 L528,791.04 L531,792.07 L534,793.09 L537,794.09 L540,795.08 L543,796.05 L546,797.01 L549,797.95 L552,798.88 L555,799.8 L558,800.7 L561,801.59 L564,802.46 L567,803.32 L570,804.16 L573,804.99 L576,805.81 L579,806.61 L582,807.4 L585,808.18 L588,808.94 L591,809.69 L594,810.43 L597,811.15 L600,811.86 L603,812.56 L606,813.24 L609,813.91 L612,814.57 L615,815.22 L618,815.86 L621,816.48 L624,817.09 L627,817.69 L630,818.28 L633,818.86 L636,819.42 L639,819.98 L642,820.52 L645,821.06 L648,821.58 L651,822.09 L654,822.59 L657,823.08 L660,823.57 L663,824.04 L666,824.5 L667,824.65"/>
</g>
<g stroke="#000" stroke-width="1.7" fill="none" stroke-linecap="butt">
<rect x="82" y="523" width="585" height="418.4"/>
<path d="M128,941.4 v-8.5 M128,523 v8.5 M391.5,941.4 v-8.5 M391.5,523 v8.5 M312.18,941.4 v-4.2 M312.18,523 v4.2 M265.78,941.4 v-4.2 M265.78,523 v4.2 M232.86,941.4 v-4.2 M232.86,523 v4.2 M207.32,941.4 v-4.2 M207.32,523 v4.2 M186.46,941.4 v-4.2 M186.46,523 v4.2 M168.82,941.4 v-4.2 M168.82,523 v4.2 M153.54,941.4 v-4.2 M153.54,523 v4.2 M140.06,941.4 v-4.2 M140.06,523 v4.2 M655,941.4 v-8.5 M655,523 v8.5 M575.68,941.4 v-4.2 M575.68,523 v4.2 M529.28,941.4 v-4.2 M529.28,523 v4.2 M496.36,941.4 v-4.2 M496.36,523 v4.2 M470.82,941.4 v-4.2 M470.82,523 v4.2 M449.96,941.4 v-4.2 M449.96,523 v4.2 M432.32,941.4 v-4.2 M432.32,523 v4.2 M417.04,941.4 v-4.2 M417.04,523 v4.2 M403.56,941.4 v-4.2 M403.56,523 v4.2 M82,891.25 h8.5 M667,891.25 h-8.5 M82,852.35 h8.5 M667,852.35 h-8.5 M82,820.57 h8.5 M667,820.57 h-8.5 M82,793.69 h8.5 M667,793.69 h-8.5 M82,770.42 h8.5 M667,770.42 h-8.5 M82,749.88 h8.5 M667,749.88 h-8.5 M82,731.52 h8.5 M667,731.52 h-8.5 M82,610.68 h8.5 M667,610.68 h-8.5 M82,540 h8.5 M667,540 h-8.5"/>
</g>
<g font-size="19.5" fill="#000">
<text x="69.8" y="948.1" text-anchor="end">3</text>
<text x="69.8" y="859.05" text-anchor="end">5</text>
<text x="69.8" y="777.12" text-anchor="end">8</text>
<text x="69.8" y="738.22" text-anchor="end">10</text>
<text x="69.8" y="617.38" text-anchor="end">20</text>
<text x="69.8" y="546.7" text-anchor="end">30</text>
<text x="131.3" y="967.2" text-anchor="middle">10</text>
<text x="394.8" y="967.2" text-anchor="middle">1</text>
<text x="658.3" y="967.2" text-anchor="middle">0.1</text>
</g>
<g font-size="19.5" fill="#000" text-anchor="end">
<text x="567.6" y="549.3">GCS2</text>
<text x="567.6" y="571.15">283 McCormick</text>
<text x="567.6" y="593">model A</text>
<text x="567.6" y="614.85">B</text>
<text x="567.6" y="636.7">C</text>
<text x="567.6" y="658.55">D</text>
</g>
<path d="M602.5,542.9 h17.8 M611.4,534 v17.8 M602.5,534 l17.8,17.8 M602.5,551.8 l17.8,-17.8" stroke="#ff00ff" stroke-width="2.5" fill="none"/>
<circle cx="611.4" cy="564.75" r="8.4" fill="none" stroke="#000" stroke-width="3.8"/><circle cx="611.4" cy="564.75" r="1.7" fill="#000"/>
<path stroke="#ff0000" stroke-width="3.5" fill="none" d="M579,586.6 H643.9"/>
<path stroke="#00ff00" stroke-width="3.5" fill="none" stroke-dasharray="6.3 2.1" d="M579,608.45 H643.9"/>
<path stroke="#0000ff" stroke-width="3.5" fill="none" stroke-dasharray="3.5 3.5" d="M579,630.3 H643.9"/>
<path stroke="#000000" stroke-width="3.5" fill="none" stroke-dasharray="3.5 2.1 3.5 7.6" d="M579,652.15 H643.9"/>
<text x="374.3" y="997.0" font-size="19.5" text-anchor="middle">age[Gyr]</text>
<text transform="translate(29.9,733.2) rotate(-90)" font-size="19.5" text-anchor="middle">σ<tspan font-size="16" dy="5.6">W</tspan></text>
</svg></body></html>
